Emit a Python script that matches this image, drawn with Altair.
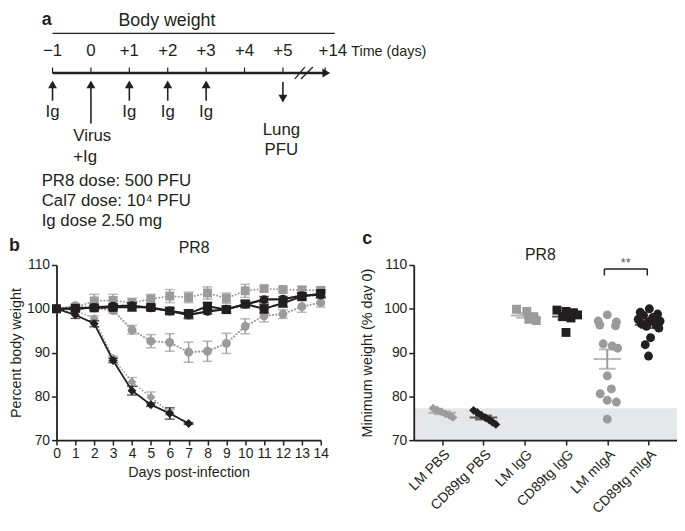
import altair as alt
import pandas as pd

FONT = "Liberation Sans"
INK = "#231f20"
GRAY = "#9b9b9b"
BAND = "#e6e7e8"

# ---------------- panel a: schematic timeline ----------------
timeline_labels = ["\u22121", "0", "+1", "+2", "+3", "+4", "+5", "+14"]
timeline_ticks = [-1, 0, 1, 2, 3, 4, 5, 6.1]          # +14 sits after the axis break
timeline_label_pos = [-1, 0, 1, 2, 3, 4, 5, 6.3]
ig_days = [-1, 1, 2, 3]
virus_day = [0]
lung_day = [5]
dose_lines = ["PR8 dose: 500 PFU", "Cal7 dose: 10\u2074 PFU", "Ig dose 2.50 mg"]

# ---------------- panel b: body weight curves ----------------
days = list(range(15))
b_series = ["LM PBS", "CD89tg PBS", "LM IgG", "CD89tg IgG", "LM mIgA", "CD89tg mIgA"]
lm_pbs_mean = [100.0, 99.6, 97.8, 88.7, 83.3, 79.8, 76.4]
lm_pbs_sem = [0.0, 0.4, 0.6, 0.5, 1.0, 1.2, 0.6]
cd_pbs_mean = [100.0, 98.6, 96.6, 88.2, 81.3, 78.1, 76.1, 73.8]
cd_pbs_sem = [0.0, 0.8, 0.7, 0.5, 1.0, 0.4, 1.3, 0.2]
lm_igg_mean = [100.0, 100.3, 101.8, 101.9, 101.4, 102.2, 102.9, 102.6, 103.6, 102.4, 104.1, 104.6, 104.4, 104.3, 104.2]
lm_igg_sem = [0.0, 0.3, 1.5, 1.4, 1.0, 1.1, 1.5, 1.2, 1.4, 1.2, 1.5, 0.5, 0.5, 0.8, 0.7]
cd_igg_mean = [100.0, 100.1, 100.2, 100.3, 100.4, 100.3, 99.5, 98.9, 100.6, 99.8, 101.1, 100.0, 101.3, 102.8, 103.5]
cd_igg_sem = [0.0, 0.3, 0.5, 0.5, 0.9, 0.6, 0.6, 0.9, 0.8, 0.8, 0.8, 1.0, 0.9, 0.7, 0.8]
lm_iga_mean = [100.0, 100.7, 100.2, 99.6, 95.2, 92.6, 92.3, 90.1, 90.3, 92.1, 96.0, 98.4, 98.8, 100.5, 101.4]
lm_iga_sem = [0.0, 0.3, 0.6, 0.6, 1.0, 1.5, 2.0, 2.3, 2.3, 2.3, 1.7, 1.4, 1.0, 1.3, 1.0]
cd_iga_mean = [100.0, 100.0, 100.3, 100.6, 100.7, 100.2, 99.5, 98.6, 99.4, 99.9, 101.0, 102.1, 102.2, 103.0, 103.2]
cd_iga_sem = [0.0, 0.2, 0.3, 0.4, 0.6, 0.5, 0.6, 0.9, 0.6, 0.6, 0.6, 0.7, 0.6, 0.6, 0.7]
b_means = [lm_pbs_mean, cd_pbs_mean, lm_igg_mean, cd_igg_mean, lm_iga_mean, cd_iga_mean]
b_sems = [lm_pbs_sem, cd_pbs_sem, lm_igg_sem, cd_igg_sem, lm_iga_sem, cd_iga_sem]

# ---------------- panel c: minimum weight ----------------
c_groups = ["LM PBS", "CD89tg PBS", "LM IgG", "CD89tg IgG", "LM mIgA", "CD89tg mIgA"]
lm_pbs_min = [77.3, 76.9, 76.5, 76.0, 75.6, 75.2]
lm_pbs_jit = [-0.22, -0.12, -0.02, 0.08, 0.18, 0.26]
cd_pbs_min = [76.8, 76.3, 75.7, 75.1, 74.6, 74.1, 73.6]
cd_pbs_jit = [-0.24, -0.15, -0.05, 0.05, 0.14, 0.22, 0.3]
lm_igg_min = [99.9, 99.4, 98.2, 97.6, 97.3]
lm_igg_jit = [-0.2, 0.05, 0.22, 0.1, 0.28]
cd_igg_min = [99.7, 99.4, 99.1, 98.6, 98.2, 97.9, 94.6]
cd_igg_jit = [-0.22, 0.0, 0.18, 0.28, -0.08, 0.12, 0.0]
lm_iga_min = [98.6, 97.2, 97.0, 96.3, 96.1, 92.0, 91.5, 91.0, 84.7, 81.7, 80.6, 79.1, 78.7, 74.8]
lm_iga_jit = [0.0, -0.22, 0.22, -0.18, 0.2, -0.1, 0.12, 0.25, 0.0, 0.1, -0.17, 0.0, 0.22, 0.0]
cd_iga_min = [100.0, 99.2, 98.8, 98.5, 98.0, 97.6, 97.2, 97.0, 96.6, 96.3, 96.0, 95.6, 93.4, 91.8, 89.2]
cd_iga_jit = [0.02, -0.2, 0.22, -0.12, 0.1, -0.25, 0.28, 0.0, -0.18, 0.18, -0.05, 0.25, 0.05, -0.08, 0.0]
c_values = [lm_pbs_min, cd_pbs_min, lm_igg_min, cd_igg_min, lm_iga_min, cd_iga_min]
c_jitter = [lm_pbs_jit, cd_pbs_jit, lm_igg_jit, cd_igg_jit, lm_iga_jit, cd_iga_jit]
survival_cutoff = 77.3
sig_pair = [4, 5]
sig_label = "**"

# ---------------- shared styling ----------------
tone_colors = [GRAY, INK, GRAY, INK, GRAY, INK]
tone_shapes = ["diamond", "diamond", "square", "square", "circle", "circle"]


def txt(s, **kw):
    return alt.Chart(pd.DataFrame({"t": [s]})).mark_text(color=INK, baseline="alphabetic", **kw)


# ================= panel a =================
sx = alt.Scale(domain=[-1, 6], range=[-4, 267.6], zero=False, nice=False)


def ax(field):
    return alt.X(field, type="quantitative", scale=sx, axis=None)


tl = pd.DataFrame({"pos": timeline_ticks, "lab": timeline_labels, "lpos": timeline_label_pos})
igd = pd.DataFrame({"d": ig_days, "t": ["Ig"] * len(ig_days)})
vd = pd.DataFrame({"d": virus_day})
ld = pd.DataFrame({"d": lung_day})

a_layers = [
    txt("a", fontSize=18, fontWeight="bold", align="left").encode(x=alt.value(-15), y=alt.value(14), text="t:N"),
    alt.Chart(pd.DataFrame({"s": [1.98], "t": ["Body weight"]})).mark_text(
        fontSize=18, color=INK, baseline="alphabetic").encode(x=ax("s"), y=alt.value(16), text="t:N"),
    alt.Chart(pd.DataFrame({"s": [-1.0], "e": [6.35]})).mark_rule(color=INK, strokeWidth=1.2).encode(
        x=ax("s"), x2="e", y=alt.value(23)),
    alt.Chart(tl).mark_text(fontSize=17, color=INK, baseline="alphabetic").encode(
        x=ax("lpos"), y=alt.value(46), text="lab:N"),
    alt.Chart(pd.DataFrame({"s": [6.78], "t": ["Time (days)"]})).mark_text(
        fontSize=14.5, color=INK, baseline="alphabetic", align="left").encode(x=ax("s"), y=alt.value(46), text="t:N"),
    alt.Chart(pd.DataFrame({"s": [-1.0], "e": [6.05]})).mark_rule(color=INK, strokeWidth=2.6).encode(
        x=ax("s"), x2="e", y=alt.value(63)),
    alt.Chart(pd.DataFrame({"s": [6.13]})).mark_point(shape="triangle-right", size=81, filled=True,
                                                      opacity=1, color=INK, strokeWidth=0).encode(
        x=ax("s"), y=alt.value(63)),
    alt.Chart(tl).mark_rule(color=INK, strokeWidth=1.2).encode(x=ax("pos"), y=alt.value(57.5), y2=alt.value(63)),
    alt.Chart(pd.DataFrame({"s": [5.31, 5.47], "e": [5.57, 5.78]})).mark_rule(color=INK, strokeWidth=1.3).encode(
        x=ax("s"), x2="e", y=alt.value(69), y2=alt.value(57)),
    # Ig arrows
    alt.Chart(igd).mark_rule(color=INK, strokeWidth=1.6).encode(x=ax("d"), y=alt.value(75), y2=alt.value(91)),
    alt.Chart(igd).mark_point(shape="triangle-up", size=81, filled=True, opacity=1, color=INK,
                              strokeWidth=0).encode(x=ax("d"), y=alt.value(74.4)),
    alt.Chart(igd).mark_text(fontSize=17, color=INK, baseline="alphabetic").encode(
        x=ax("d"), y=alt.value(107), text="t:N"),
    # virus arrow
    alt.Chart(vd).mark_rule(color=INK, strokeWidth=1.6).encode(x=ax("d"), y=alt.value(75), y2=alt.value(114)),
    alt.Chart(vd).mark_point(shape="triangle-up", size=81, filled=True, opacity=1, color=INK,
                             strokeWidth=0).encode(x=ax("d"), y=alt.value(74.4)),
    alt.Chart(pd.DataFrame({"s": [-0.46]})).mark_text(
        fontSize=17, color=INK, baseline="alphabetic", align="left", lineHeight=21).encode(
        x=ax("s"), y=alt.value(132), text=alt.value(["Virus", "+Ig"])),
    # lung arrow
    alt.Chart(ld).mark_rule(color=INK, strokeWidth=1.6).encode(x=ax("d"), y=alt.value(72), y2=alt.value(88)),
    alt.Chart(ld).mark_point(shape="triangle-down", size=81, filled=True, opacity=1, color=INK,
                             strokeWidth=0).encode(x=ax("d"), y=alt.value(89)),
    alt.Chart(pd.DataFrame({"s": [4.96]})).mark_text(
        fontSize=17, color=INK, baseline="alphabetic", lineHeight=20).encode(
        x=ax("s"), y=alt.value(126), text=alt.value(["Lung", "PFU"])),
    # doses
    txt("dose", fontSize=17, align="left", lineHeight=20.3).encode(
        x=alt.value(-15), y=alt.value(177), text=alt.value(dose_lines)),
]
panel_a = alt.layer(*a_layers).properties(width=280, height=230)

# ================= panel b =================
rows = []
for name, means, sems in zip(b_series, b_means, b_sems):
    for d, m, s in zip(days, means, sems):
        rows.append({"series": name, "day": d, "mean": m, "sem": s,
                     "tone": "gray" if name.startswith("LM") else "black"})
b_df = pd.DataFrame(rows)

bxs = alt.Scale(domain=[0, 14], zero=False, nice=False)
bys = alt.Scale(domain=[70, 110], zero=False, nice=False)


def bx():
    return alt.X("day:Q", scale=bxs, axis=alt.Axis(values=days, title="Days post-infection", labelAngle=0,
                                                  titlePadding=5, labelOverlap=False, labelFlush=False))


def by(field):
    return alt.Y(field, type="quantitative", scale=bys,
                 axis=alt.Axis(values=[70, 80, 90, 100, 110], title="Percent body weight", titlePadding=3,
                               labelOverlap=False, labelFlush=False))


bcolor = alt.Color("series:N", scale=alt.Scale(domain=b_series, range=tone_colors), legend=None)
bshape = alt.Shape("series:N", scale=alt.Scale(domain=b_series, range=tone_shapes), legend=None)
bsize = alt.Size("series:N", scale=alt.Scale(domain=b_series, range=[81, 81, 100, 100, 100, 90]), legend=None)
bdash = alt.StrokeDash("series:N", scale=alt.Scale(domain=b_series,
                                                   range=[[0.1, 3.2], [1, 0], [0.1, 3.2], [1, 0], [0.1, 3.2], [1, 0]]),
                       legend=None)
bwidth = alt.StrokeWidth("series:N", scale=alt.Scale(domain=b_series, range=[1.7, 2.2, 1.7, 2.2, 1.7, 2.2]),
                         legend=None)


def b_tone_layers(tone):
    base = alt.Chart(b_df).transform_filter(alt.datum.tone == tone)
    err = base.transform_filter(alt.datum.sem > 0).transform_calculate(
        lo="datum.mean - datum.sem", hi="datum.mean + datum.sem")
    return [
        err.mark_rule(strokeWidth=1.5).encode(x=bx(), y=by("lo"), y2="hi:Q", color=bcolor),
        err.mark_tick(orient="horizontal", size=10, thickness=1.5).encode(x=bx(), y=by("lo"), color=bcolor),
        err.mark_tick(orient="horizontal", size=10, thickness=1.5).encode(x=bx(), y=by("hi"), color=bcolor),
        base.mark_line(strokeCap="round").encode(x=bx(), y=by("mean"), color=bcolor, strokeDash=bdash,
                                                 strokeWidth=bwidth, detail="series:N"),
        base.mark_point(filled=True, opacity=1, strokeWidth=0).encode(
            x=bx(), y=by("mean"), color=bcolor, shape=bshape, size=bsize),
    ]


b_layers = b_tone_layers("gray") + b_tone_layers("black") + [
    txt("b", fontSize=18, fontWeight="bold", align="left").encode(x=alt.value(-48), y=alt.value(-14), text="t:N"),
    txt("PR8", fontSize=16).encode(x=alt.value(139), y=alt.value(-12), text="t:N"),
]
panel_b = alt.layer(*b_layers).properties(width=267, height=177)

# ================= panel c =================
crow = []
for i, (g, vals, jit) in enumerate(zip(c_groups, c_values, c_jitter)):
    for v, j in zip(vals, jit):
        crow.append({"group": g, "idx": i, "value": v, "xpos": i + j})
c_df = pd.DataFrame(crow)

cxs = alt.Scale(domain=[-0.69, 5.69], zero=False, nice=False)
label_expr = "[" + ",".join("'" + g + "'" for g in c_groups) + "][datum.value]"


def cx(field):
    return alt.X(field, type="quantitative", scale=cxs,
                 axis=alt.Axis(values=list(range(len(c_groups))), labelExpr=label_expr, title=None,
                               labelAngle=-45, labelAlign="right", labelBaseline="top", zindex=1,
                               labelOverlap=False, labelFlush=False, labelBound=False))


def cy(field):
    return alt.Y(field, type="quantitative", scale=bys,
                 axis=alt.Axis(values=[70, 80, 90, 100, 110], title="Minimum weight (% day 0)",
                               titlePadding=9, zindex=1, labelOverlap=False, labelFlush=False))


ccolor = alt.Color("group:N", scale=alt.Scale(domain=c_groups, range=tone_colors), legend=None)
cshape = alt.Shape("group:N", scale=alt.Scale(domain=c_groups, range=tone_shapes), legend=None)
csize = alt.Size("group:N", scale=alt.Scale(domain=c_groups, range=[100, 100, 121, 121, 144, 144]), legend=None)

stats = alt.Chart(c_df).transform_aggregate(
    m="mean(value)", se="stderr(value)", groupby=["group", "idx"]
).transform_calculate(lo="datum.m - datum.se", hi="datum.m + datum.se")

band_df = pd.DataFrame({"x0": [-0.69], "x1": [5.69], "y0": [70], "y1": [survival_cutoff]})
sig_df = pd.DataFrame({"x0": [sig_pair[0] - 0.07], "x1": [sig_pair[1] - 0.03], "top": [109.1]})
legs_df = pd.DataFrame({"x": [sig_pair[0] - 0.07, sig_pair[1] - 0.03], "lo": [107.6, 107.6], "hi": [109.1, 109.1]})
star_df = pd.DataFrame({"x": [sum(sig_pair) / 2 - 0.05], "y": [109.6], "t": [sig_label]})

c_layers = [
    alt.Chart(band_df).mark_rect(color=BAND).encode(x=cx("x0"), x2="x1", y=cy("y0"), y2="y1"),
    alt.Chart(c_df).mark_point(filled=True, opacity=1, strokeWidth=0).encode(
        x=cx("xpos"), y=cy("value"), color=ccolor, shape=cshape, size=csize),
    stats.mark_rule(strokeWidth=2).encode(x=cx("idx"), y=cy("lo"), y2="hi:Q", color=ccolor),
    stats.mark_tick(orient="horizontal", size=28, thickness=2).encode(x=cx("idx"), y=cy("m"), color=ccolor),
    stats.mark_tick(orient="horizontal", size=17, thickness=2).encode(x=cx("idx"), y=cy("lo"), color=ccolor),
    stats.mark_tick(orient="horizontal", size=17, thickness=2).encode(x=cx("idx"), y=cy("hi"), color=ccolor),
    alt.Chart(sig_df).mark_rule(color=INK, strokeWidth=1.5).encode(x=cx("x0"), x2="x1", y=cy("top")),
    alt.Chart(legs_df).mark_rule(color=INK, strokeWidth=1.5).encode(x=cx("x"), y=cy("lo"), y2="hi"),
    alt.Chart(star_df).mark_text(fontSize=13, color="#555555", baseline="alphabetic").encode(
        x=cx("x"), y=cy("y"), text="t:N"),
    txt("c", fontSize=18, fontWeight="bold", align="left").encode(x=alt.value(-52), y=alt.value(-21), text="t:N"),
    txt("PR8", fontSize=16).encode(x=alt.value(128), y=alt.value(-5), text="t:N"),
]
panel_c = alt.layer(*c_layers).properties(width=266, height=177)

row = alt.hconcat(panel_b, panel_c, spacing=94, bounds="flush")
chart = alt.vconcat(panel_a, row, spacing=27, bounds="flush").properties(padding=0).configure(
    font=FONT
).configure_view(stroke=None).configure_axis(
    domainColor=INK, domainWidth=1.8, tickColor=INK, tickWidth=1.5, tickSize=5,
    labelColor=INK, labelFontSize=14, labelPadding=2, titleColor=INK, titleFontSize=14.5,
    titleFontWeight="normal", grid=False, labelFont=FONT, titleFont=FONT
)

chart.save("out.html", embed_options={"renderer": "svg", "actions": False})
